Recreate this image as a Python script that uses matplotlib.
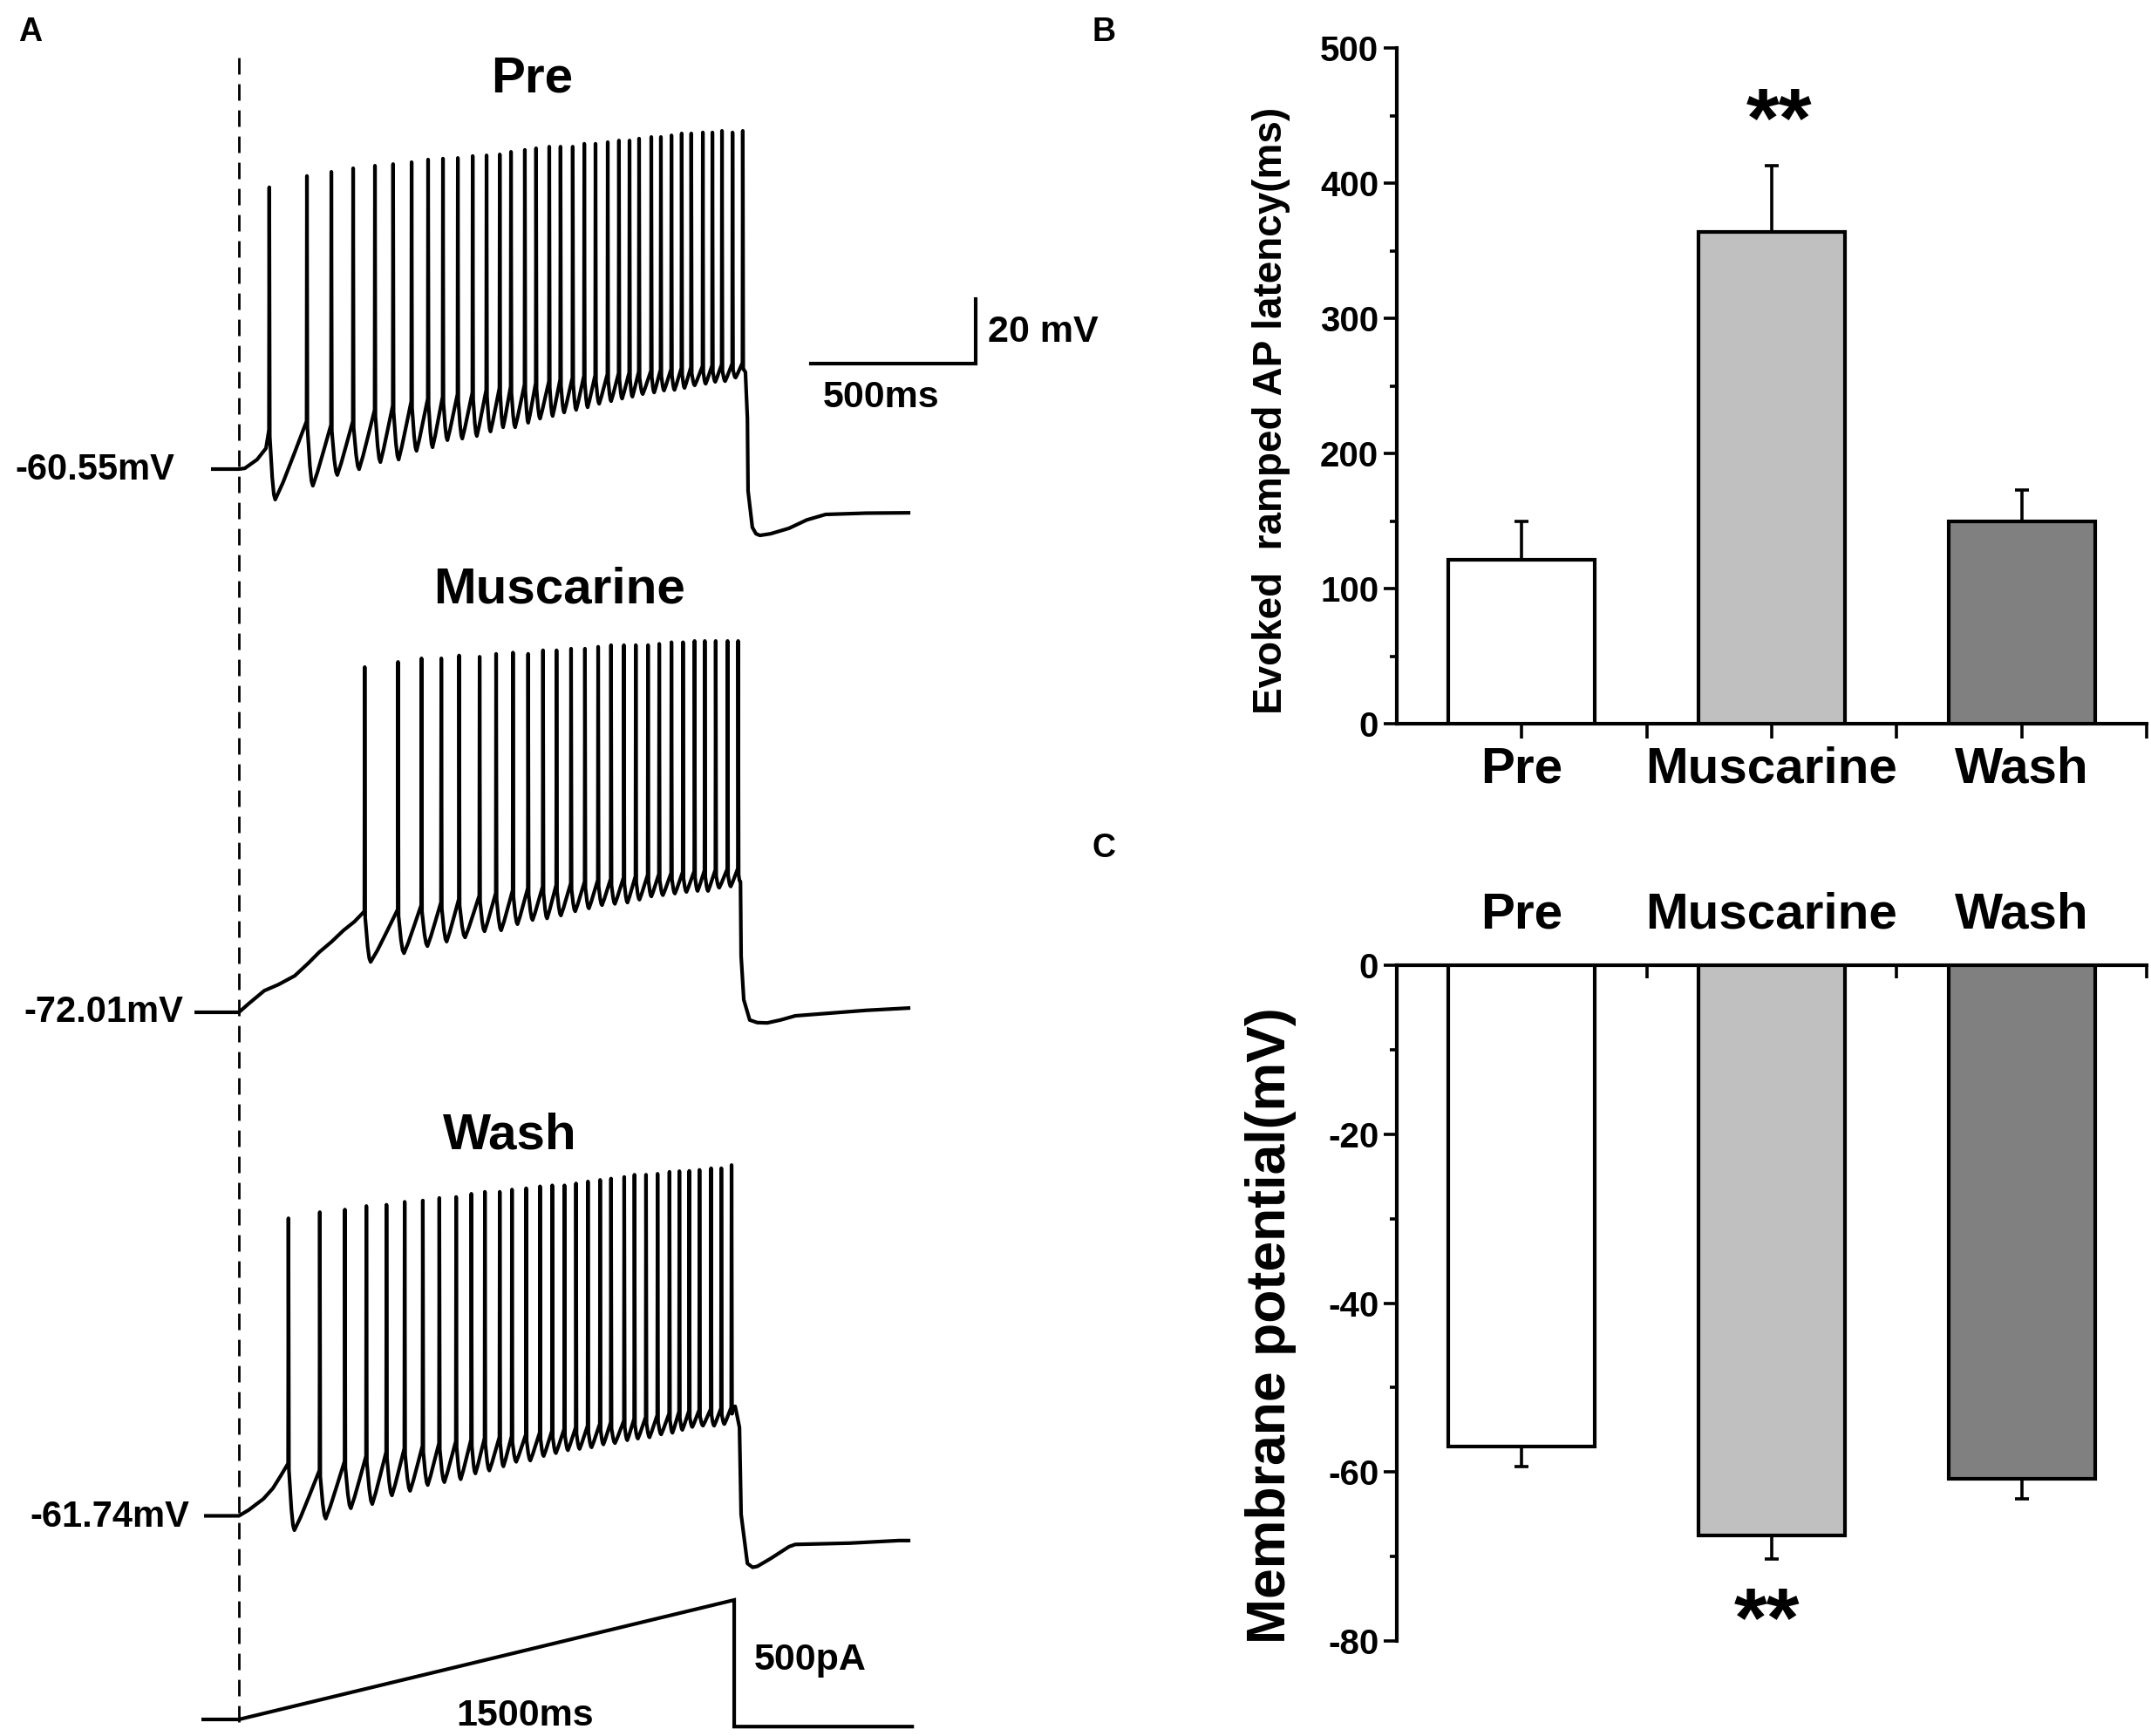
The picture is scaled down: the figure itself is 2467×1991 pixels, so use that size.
import matplotlib
matplotlib.use('Agg')
import matplotlib.pyplot as plt
import numpy as np

plt.rcParams['font.family'] = ['Liberation Sans', 'DejaVu Sans']
plt.rcParams['font.weight'] = 'bold'
plt.rcParams['axes.unicode_minus'] = False

# ---- panel A: ramp-evoked firing (time in ms from ramp onset, voltage in mV)
REST_MV = [-60.55, -72.01, -61.74]
TRACE_NAMES = ['Pre', 'Muscarine', 'Wash']

# Pre
pre_ramp_t = [-79, 0, 18, 55, 82]
pre_ramp_v = [-60.55, -60.55, -60.3, -57.6, -54.1]
pre_spike_t = [92, 206, 280, 346, 412, 467, 523, 573, 618, 663, 708, 750, 790, 824,
               866, 900, 940, 974, 1011, 1046, 1080, 1117, 1151, 1183, 1212, 1249,
               1278, 1310, 1341, 1370, 1405, 1434, 1463, 1495, 1526]
pre_peak = [26.8, 30.3, 31.6, 32.7, 33.5, 34.0, 34.6, 35.4, 35.7, 35.9, 36.5, 36.7,
            37.0, 37.8, 38.4, 38.9, 39.4, 39.4, 39.4, 40.3, 40.3, 40.8, 41.3, 41.3,
            41.9, 42.4, 42.4, 42.9, 43.5, 43.5, 43.8, 43.8, 44.3, 43.8, 44.3]
pre_thr = [-48.4, -45.7, -46.8, -45.7, -42.2, -40.8, -39.5, -38.7, -38.1, -37.3,
           -36.8, -36.0, -35.4, -34.9, -34.3, -33.8, -33.3, -32.7, -32.2, -31.6,
           -31.4, -31.1, -30.8, -30.6, -30.3, -30.0, -29.7, -29.5, -29.2, -28.9,
           -28.6, -28.4, -28.1, -27.8, -27.6]
pre_ahp = [-70.0, -65.7, -62.4, -60.6, -58.4, -57.6, -54.9, -53.8, -51.6, -51.1,
           -50.3, -48.9, -47.6, -47.6, -46.2, -44.9, -44.1, -43.0, -42.2, -41.4,
           -40.3, -39.5, -38.7, -38.1, -37.3, -36.8, -36.2, -36.0, -35.4, -34.6,
           -34.1, -33.5, -33.3, -32.2]
pre_post_t = [1531, 1534, 1540, 1542, 1555, 1566, 1578, 1610, 1666, 1720, 1777, 1900, 2028]
pre_post_v = [-30.0, -30.5, -44.8, -67.3, -78.6, -80.6, -81.1, -80.6, -78.9, -76.3,
              -74.6, -74.2, -74.1]

# Muscarine
mus_ramp_t = [-129, 0, 30, 77, 120, 169, 210, 243, 280, 317, 350]
mus_ramp_v = [-72.01, -72.01, -69.3, -65.3, -63.4, -60.7, -56.8, -53.4, -50.2, -46.6, -43.9]
mus_spike_t = [381, 482, 553, 613, 667, 729, 779, 830, 876, 921, 962, 1006, 1048,
               1088, 1127, 1166, 1202, 1239, 1273, 1310, 1345, 1380, 1411, 1444,
               1480, 1512]
mus_peak = [35.0, 36.6, 37.7, 37.7, 38.6, 38.2, 39.1, 39.5, 39.1, 40.2, 40.2, 40.7,
            40.7, 41.3, 41.8, 41.8, 41.8, 41.8, 42.2, 42.7, 42.7, 43.1, 43.1, 43.1,
            43.1, 43.1]
mus_thr = [-40.7, -40.1, -38.8, -37.9, -36.9, -35.8, -35.0, -34.2, -33.5, -33.0,
           -32.5, -32.0, -31.5, -31.0, -30.6, -30.2, -29.8, -29.4, -29.1, -28.8,
           -28.5, -28.2, -28.0, -27.8, -27.6, -27.4]
mus_ahp = [-56.4, -53.7, -51.5, -50.1, -48.8, -46.9, -46.6, -44.7, -43.4, -42.9,
           -42.0, -40.7, -39.8, -38.8, -38.4, -38.0, -37.1, -36.1, -35.7, -35.2,
           -34.7, -34.4, -34.4, -33.4, -33.0]
mus_post_t = [1516, 1519, 1521, 1529, 1547, 1570, 1600, 1640, 1685, 1800, 1900, 2028]
mus_post_v = [-31.2, -31.5, -54.6, -68.1, -74.4, -75.2, -75.3, -74.4, -73.1, -72.2,
              -71.4, -70.7]

# Wash
wash_ramp_t = [-100, 0, 30, 74, 103, 125]
wash_ramp_v = [-61.74, -61.74, -59.9, -56.5, -53.2, -49.6]
wash_spike_t = [150, 245, 321, 386, 447, 502, 557, 607, 658, 704, 745, 790, 827,
                870, 912, 949, 986, 1021, 1057, 1094, 1127, 1167, 1198, 1233, 1268,
                1304, 1334, 1364, 1395, 1430, 1461, 1492]
wash_peak = [30.5, 32.4, 33.2, 34.3, 34.7, 35.6, 36.0, 36.8, 37.1, 38.1, 38.7, 38.7,
             39.4, 39.8, 40.4, 40.7, 40.7, 41.3, 41.9, 42.4, 42.8, 43.3, 44.0, 44.0,
             44.3, 44.9, 45.1, 45.2, 45.5, 46.0, 46.0, 47.0]
wash_thr = [-45.5, -47.6, -44.8, -43.2, -41.9, -40.8, -40.0, -39.2, -38.6, -38.1,
            -37.6, -37.3, -37.0, -36.5, -35.9, -35.4, -34.8, -34.3, -33.8, -33.2,
            -32.7, -32.2, -31.6, -31.1, -30.5, -30.0, -29.4, -29.2, -28.9, -28.6,
            -28.4, -28.1]
wash_ahp = [-66.2, -62.6, -59.4, -58.1, -55.4, -54.0, -52.2, -51.3, -50.4, -48.6,
            -47.7, -46.4, -45.0, -44.6, -43.2, -42.3, -41.4, -41.0, -40.5, -39.6,
            -39.2, -38.3, -37.8, -37.4, -36.5, -36.0, -35.1, -34.2, -33.8, -33.8,
            -33.3]
wash_post_t = [1496, 1503, 1516, 1521, 1540, 1556, 1570, 1610, 1666, 1685, 1850, 1999, 2028]
wash_post_v = [-28.5, -27.8, -34.3, -61.3, -76.5, -77.7, -77.4, -75.0, -71.3, -70.6,
               -70.2, -69.4, -69.4]

# injected current ramp (pA)
stim_t = [-108, 0, 1500, 1500, 2039]
stim_pa = [0, 0, 500, -30, -30]

# ---- panels B and C
conditions = ['Pre', 'Muscarine', 'Wash']
bar_colors = ['white', '#c0c0c0', '#808080']
latency = [121, 364, 150]
latency_err = [29, 49, 23]
potential = [-57.0, -67.5, -60.8]
potential_err = [2.4, 2.8, 2.4]


def build_trace(ramp_t, ramp_v, sp_t, peak, thr, ahp, post_t, post_v):
    t = list(ramp_t)
    v = list(ramp_v)
    n = len(sp_t)
    for i in range(n):
        t += [sp_t[i] - 1.0, sp_t[i], sp_t[i] + 1.5]
        v += [thr[i], peak[i], thr[i] - 2.0]
        if i < n - 1:
            isi = sp_t[i + 1] - sp_t[i]
            dt = min(0.3 * isi, 18)
            drop = thr[i] - 2.0 - ahp[i]
            rise = thr[i + 1] - ahp[i]
            t_tr = sp_t[i] + dt
            t_nx = sp_t[i + 1] - 1.0
            # rounded fast AHP, then recovery towards next threshold
            t += [sp_t[i] + 1.5 + 0.45 * (dt - 1.5), sp_t[i] + 1.5 + 0.75 * (dt - 1.5), t_tr,
                  t_tr + 0.25 * (t_nx - t_tr), t_tr + 0.6 * (t_nx - t_tr)]
            v += [ahp[i] + 0.35 * drop, ahp[i] + 0.08 * drop, ahp[i],
                  ahp[i] + 0.22 * rise, ahp[i] + 0.58 * rise]
    t += list(post_t)
    v += list(post_v)
    return np.array(t), np.array(v)


W, H = 2467, 1991
fig = plt.figure(figsize=(W / 100, H / 100), dpi=100)


def fx(x):
    return x / W


def fy(y):
    return 1 - y / H


# layout of panel A (pixels)
X0_PX, MS_PX, MV_PX, A_RIGHT = 274, 0.3787, 3.7, 1160
BASE_PX = [538, 1161, 1738.5]


def trace_axes(base_px, base_mv):
    ax = fig.add_axes([0, 0, A_RIGHT / W, 1])
    ax.set_xlim(-X0_PX / MS_PX, (A_RIGHT - X0_PX) / MS_PX)
    ax.set_ylim(base_mv - (H - base_px) / MV_PX, base_mv + base_px / MV_PX)
    ax.axis('off')
    ax.patch.set_alpha(0)
    return ax


traces = [
    build_trace(pre_ramp_t, pre_ramp_v, pre_spike_t, pre_peak, pre_thr, pre_ahp,
                pre_post_t, pre_post_v),
    build_trace(mus_ramp_t, mus_ramp_v, mus_spike_t, mus_peak, mus_thr, mus_ahp,
                mus_post_t, mus_post_v),
    build_trace(wash_ramp_t, wash_ramp_v, wash_spike_t, wash_peak, wash_thr, wash_ahp,
                wash_post_t, wash_post_v),
]

trace_axs = []
for (tt, vv), bpx, rest in zip(traces, BASE_PX, REST_MV):
    ax = trace_axes(bpx, rest)
    ax.plot(tt, vv, color='black', lw=3.0, solid_joinstyle='round')
    trace_axs.append(ax)

ax_pre = trace_axs[0]
# dashed onset line
ax_pre.axvline(0, ymin=1 - 1975 / H, ymax=1 - 63 / H, color='black', lw=2,
               linestyle=(0, (6.8, 4)))
# scale bars 500 ms / 20 mV
ax_pre.plot([1732, 2232, 2232], [-27.85, -27.85, -7.85], color='black', lw=3.0,
            solid_joinstyle='miter')

# current trace
ax_i = fig.add_axes([0, 0, A_RIGHT / W, 1])
ax_i.set_xlim(-X0_PX / MS_PX, (A_RIGHT - X0_PX) / MS_PX)
PA_PX = 0.274
ax_i.set_ylim(-(H - 1972) / PA_PX, 1972 / PA_PX)
ax_i.axis('off')
ax_i.patch.set_alpha(0)
ax_i.plot(stim_t, stim_pa, color='black', lw=3.0, solid_joinstyle='miter')

# panel A texts
lab_pos = [(200, 539), (210, 1161), (217, 1740)]
for (x, y), rest in zip(lab_pos, REST_MV):
    fig.text(fx(x), fy(y), f'{rest:.2f}mV', ha='right', va='center', fontsize=30)
title_pos = [(610, 90), (642, 676), (585, 1303)]
for (x, y), name in zip(title_pos, TRACE_NAMES):
    fig.text(fx(x), fy(y), name, ha='center', va='center', fontsize=42)
fig.text(fx(1133), fy(381), '20 mV', ha='left', va='center', fontsize=31)
fig.text(fx(1011), fy(456), '500ms', ha='center', va='center', fontsize=31)
fig.text(fx(865), fy(1904), '500pA', ha='left', va='center', fontsize=31)
fig.text(fx(602), fy(1968), '1500ms', ha='center', va='center', fontsize=31)

for letter, (x, y) in zip('ABC', [(35, 37), (1266, 37), (1266, 973)]):
    fig.text(fx(x), fy(y), letter, ha='center', va='center', fontsize=27)

# ---- panel B
xpos = np.arange(1, 4)
ax_b = fig.add_axes([fx(1602), fy(830), 860 / W, 775 / H])
ax_b.bar(xpos, latency, width=0.585, color=bar_colors, edgecolor='black',
         linewidth=3.0, zorder=3)
ax_b.errorbar(xpos, latency, yerr=[np.zeros(3), latency_err], fmt='none',
              ecolor='black', elinewidth=2.6, capsize=6, capthick=2.6, zorder=2)
ax_b.set_xlim(0.5, 3.5)
ax_b.set_ylim(0, 500)
ax_b.set_yticks(np.arange(0, 501, 100))
ax_b.set_yticks(np.arange(50, 500, 100), minor=True)
ax_b.set_xticks(xpos)
ax_b.set_xticklabels(conditions, fontsize=42)
ax_b.set_xticks([1.5, 2.5, 3.5], minor=True)
ax_b.spines[['top', 'right']].set_visible(False)
ax_b.text(2.03, 443, '**', ha='center', va='center', fontsize=70)

# ---- panel C
ax_c = fig.add_axes([fx(1602), fy(1882), 860 / W, 775 / H])
ax_c.bar(xpos, potential, width=0.585, color=bar_colors, edgecolor='black',
         linewidth=3.0, zorder=3)
ax_c.errorbar(xpos, potential, yerr=[potential_err, np.zeros(3)], fmt='none',
              ecolor='black', elinewidth=2.6, capsize=6, capthick=2.6, zorder=2)
ax_c.set_xlim(0.5, 3.5)
ax_c.set_ylim(-80, 0)
ax_c.set_yticks(np.arange(-80, 1, 20))
ax_c.set_yticks(np.arange(-70, 0, 20), minor=True)
ax_c.xaxis.tick_top()
ax_c.set_xticks(xpos)
ax_c.set_xticklabels(conditions, fontsize=42)
ax_c.set_xticks([1.5, 2.5, 3.5], minor=True)
ax_c.spines[['bottom', 'right']].set_visible(False)
ax_c.text(1.98, -78.0, '**', ha='center', va='center', fontsize=70)

for ax in (ax_b, ax_c):
    for s in ax.spines.values():
        s.set_linewidth(3.0)
    ax.tick_params(axis='y', which='major', direction='out', length=11, width=2.6,
                   labelsize=29, pad=4)
    ax.tick_params(axis='y', which='minor', direction='out', length=6, width=2.6)
ax_b.tick_params(axis='x', which='both', direction='out', length=12, width=2.6, pad=6)
ax_c.tick_params(axis='x', which='both', direction='in', length=11, width=2.6, pad=22)

fig.text(fx(1458), fy(471), 'Evoked  ramped AP latency(ms)', rotation=90,
         ha='center', va='center', fontsize=33)
fig.text(fx(1458), fy(1520), 'Membrane potential(mV)', rotation=90,
         ha='center', va='center', fontsize=45)

fig.savefig('out.png', dpi=100)
